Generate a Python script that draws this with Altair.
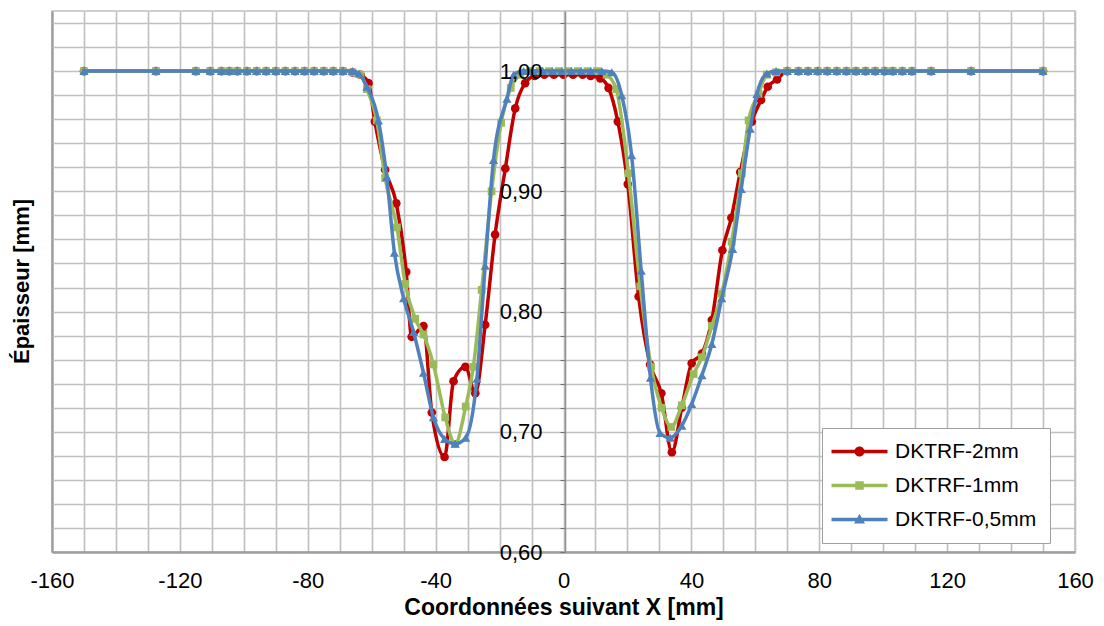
import altair as alt
import pandas as pd

SERIES = ["DKTRF-2mm", "DKTRF-1mm", "DKTRF-0,5mm"]
COLORS = ["#C00000", "#9BBB59", "#4F81BD"]
FONT = "Liberation Sans Narrow, Liberation Sans, Arial"

flat_left_x = [-150, -127.5, -115, -110.5, -107, -104.5, -102, -99, -96, -93, -90,
               -87, -84, -81, -78, -75, -72, -69]
flat_right_x = [70, 73.5, 76.5, 79.5, 82.5, 85.5, 88.5, 91.5, 94.5, 97.5, 100.5,
                103, 106, 109, 115, 127.5, 150]

red_mid_x = [-66, -63.5, -61, -59, -55.8, -52.3, -49.2, -47.5, -43.8, -41.2, -37.2,
             -34.4, -30.7, -27.6, -24.5, -21.4, -18.2, -15.1, -12.0, -9, -6, -3, 0,
             3, 6, 8.5, 11.5, 14.1, 17.0, 20.1, 23.5, 27.1, 30.6, 33.9, 37.0, 40.1,
             43.3, 46.4, 49.7, 52.5, 55.3, 58.9, 61.8, 63.9, 66.8]
red_mid_y = [0.999, 0.997, 0.990, 0.958, 0.918, 0.890, 0.833, 0.779, 0.788, 0.716, 0.679,
             0.742, 0.754, 0.732, 0.789, 0.864, 0.919, 0.969, 0.990, 0.996, 0.997, 0.997, 0.997,
             0.997, 0.997, 0.996, 0.994, 0.986, 0.958, 0.906, 0.8125, 0.756, 0.732, 0.683, 0.720, 0.757,
             0.765, 0.793, 0.851, 0.878, 0.916, 0.958, 0.976, 0.987, 0.993]

green_mid_x = [-66, -63.5, -61.5, -58.4, -55.8, -52.1, -49.5, -46.4, -43.8, -40.7, -37.0,
               -33.9, -30.6, -28.2, -25.6, -22.5, -19.5, -16.5, -13.5, -10.5, -7.5, -4.5,
               -1.5, 1.5, 4.5, 7.5, 10.5, 13.5, 16.5, 20.3, 24.0, 27.4, 30.7, 33.7, 37.0,
               40.7, 43.3, 46.4, 49.5, 52.6, 55.8, 57.9, 61.0, 63.6, 66.5]
green_mid_y = [0.999, 0.997, 0.985, 0.959, 0.911, 0.870, 0.823, 0.794, 0.781, 0.756, 0.712,
               0.690, 0.721, 0.754, 0.818, 0.900, 0.957, 0.986, 0.997, 1.0, 1.0, 1.0,
               1.0, 1.0, 1.0, 1.0, 1.0, 0.997, 0.985, 0.915, 0.821, 0.754, 0.720, 0.704, 0.722,
               0.748, 0.762, 0.788, 0.815, 0.858, 0.915, 0.959, 0.981, 0.997, 0.999]

blue_mid_x = [-66, -64, -61.5, -57.9, -55.3, -52.9, -50.0, -46.9, -43.8, -40.7, -37.2,
              -33.9, -30.6, -27.1, -24.5, -21.9, -17.7, -15.6, -12.5, -9.5, -6.5, -3.5,
              -0.5, 2.5, 5.5, 8.5, 12.0, 15.1, 18.2, 21.3, 24.3, 27.2, 30.2, 33.4, 37.0,
              40.1, 43.3, 46.4, 49.5, 52.9, 55.6, 58.4, 60.5, 63.6, 66.5]
blue_mid_y = [1.0, 0.998, 0.987, 0.959, 0.912, 0.849, 0.811, 0.783, 0.749, 0.712, 0.694,
              0.690, 0.695, 0.744, 0.838, 0.926, 0.977, 0.997, 1.0, 1.0, 1.0, 1.0,
              1.0, 1.0, 1.0, 1.0, 1.0, 0.999, 0.980, 0.930, 0.834, 0.745, 0.699, 0.695, 0.705,
              0.723, 0.747, 0.773, 0.811, 0.852, 0.902, 0.952, 0.981, 0.998, 1.0]

mids = [(red_mid_x, red_mid_y), (green_mid_x, green_mid_y), (blue_mid_x, blue_mid_y)]

rows = []
for name, (mx, my) in zip(SERIES, mids):
    xs = flat_left_x + mx + flat_right_x
    ys = [1.0] * len(flat_left_x) + my + [1.0] * len(flat_right_x)
    for i, (x, y) in enumerate(zip(xs, ys)):
        rows.append({"series": name, "x": x, "y": y, "i": i})
df = pd.DataFrame(rows)

x_vals = list(range(-160, 161, 10))
y_vals = [round(0.60 + 0.02 * k, 2) for k in range(23)]

X = alt.X("x:Q", scale=alt.Scale(domain=[-160, 160], nice=False, zero=False),
          axis=alt.Axis(values=x_vals,
                        labelExpr="datum.value % 40 === 0 ? '' + datum.value : ''",
                        grid=True, gridColor={"condition": {"test": "datum.value === -160", "value": "#a0a0a0"}, "value": "#c0c0c0"},
                        gridWidth={"condition": {"test": "datum.value === -160", "value": 2.5}, "value": 1.6},
                        ticks=False, domainColor="#a0a0a0", domainWidth=2.5,
                        labelFontSize=22, labelFont=FONT, labelColor="#000", labelPadding=18,
                        labelOverlap=False, labelFlush=False,
                        title="Coordonnées suivant X [mm]", titleFont=FONT, titleFontSize=23,
                        titleFontWeight="bold", titleColor="#000", titlePadding=5))

y_scale = alt.Scale(domain=[0.6, 1.05], nice=False, zero=False)

# grid-only axis (behind the data)
Y_grid = alt.Y("y:Q", scale=y_scale,
               axis=alt.Axis(values=y_vals, orient="left", grid=True, gridColor="#c0c0c0",
                             gridWidth=1.6, labels=False, ticks=False, domain=False,
                             title=None, zindex=0))
# label axis crossing at x = 0 (drawn above the data)
Y_lab = alt.Y("y:Q", scale=y_scale,
              axis=alt.Axis(values=y_vals, orient="left",
                            labelExpr="abs(datum.value*10 - round(datum.value*10)) < 0.001 ? replace(format(datum.value, '.2f'), '.', ',') : ''",
                            offset=-513, grid=False,
                            domainColor="#909090", domainWidth=1.5, tickColor="#707070", tickSize=5,
                            labelFontSize=22, labelFont=FONT, labelColor="#000", labelPadding=18,
                            labelOverlap=False, zindex=1,
                            title="Épaisseur [mm]", titleFont=FONT, titleFontSize=22,
                            titleFontWeight="bold", titleColor="#000", titleX=-532, titleY=270))
Y_none = alt.Y("y:Q", scale=y_scale, axis=None)

shapes = ["circle", "square", "triangle-up"]
sizes = [75, 60, 85]
layers = []
for k, (name, col, shp, sz) in enumerate(zip(SERIES, COLORS, shapes, sizes)):
    ych = Y_grid if k == 0 else Y_none
    base = alt.Chart(df[df.series == name]).encode(x=X, y=ych, order="i:Q")
    layers.append(base.mark_line(color=col, strokeWidth=3.5, interpolate="monotone"))
    layers.append(base.mark_point(color=col, filled=True, shape=shp, size=sz, opacity=1)
                  .encode(y=Y_none))

# legend glyphs: a line segment with the series marker in its middle (unit = 5 px)
line_part = "M-2.8,-0.35L8.4,-0.35L8.4,0.35L-2.8,0.35Z"
legend_paths = [
    line_part + " M3.8,0 A1,1 0 1,1 1.8,0 A1,1 0 1,1 3.8,0 Z",
    line_part + " M1.95,-0.85 L3.65,-0.85 L3.65,0.85 L1.95,0.85 Z",
    line_part + " M2.8,-1.15 L3.9,0.8 L1.7,0.8 Z",
]
leg = alt.Legend(title=None, orient="none", legendX=770, legendY=417,
                 strokeColor="#a0a0a0", fillColor="white", padding=13,
                 labelFont=FONT, labelFontSize=21, labelColor="#000",
                 symbolSize=100, symbolStrokeWidth=0, symbolOffset=0,
                 labelOffset=39, rowPadding=12, zindex=2)
legend_layer = alt.Chart(df).transform_filter("false").mark_point(filled=True, opacity=1).encode(
    x=X, y=Y_lab,
    color=alt.Color("series:N", scale=alt.Scale(domain=SERIES, range=COLORS), legend=leg),
    shape=alt.Shape("series:N", scale=alt.Scale(domain=SERIES, range=legend_paths), legend=leg),
)
layers.append(legend_layer)

chart = alt.layer(*layers).resolve_axis(y="independent").properties(
    width=1023, height=541,
    autosize=alt.AutoSizeParams(type="none"),
    padding={"left": 44, "top": 3, "right": 20, "bottom": 70},
).configure_view(stroke="#c0c0c0", strokeWidth=1.6)

chart.save("out.html", embed_options={"renderer": "svg", "actions": False})
